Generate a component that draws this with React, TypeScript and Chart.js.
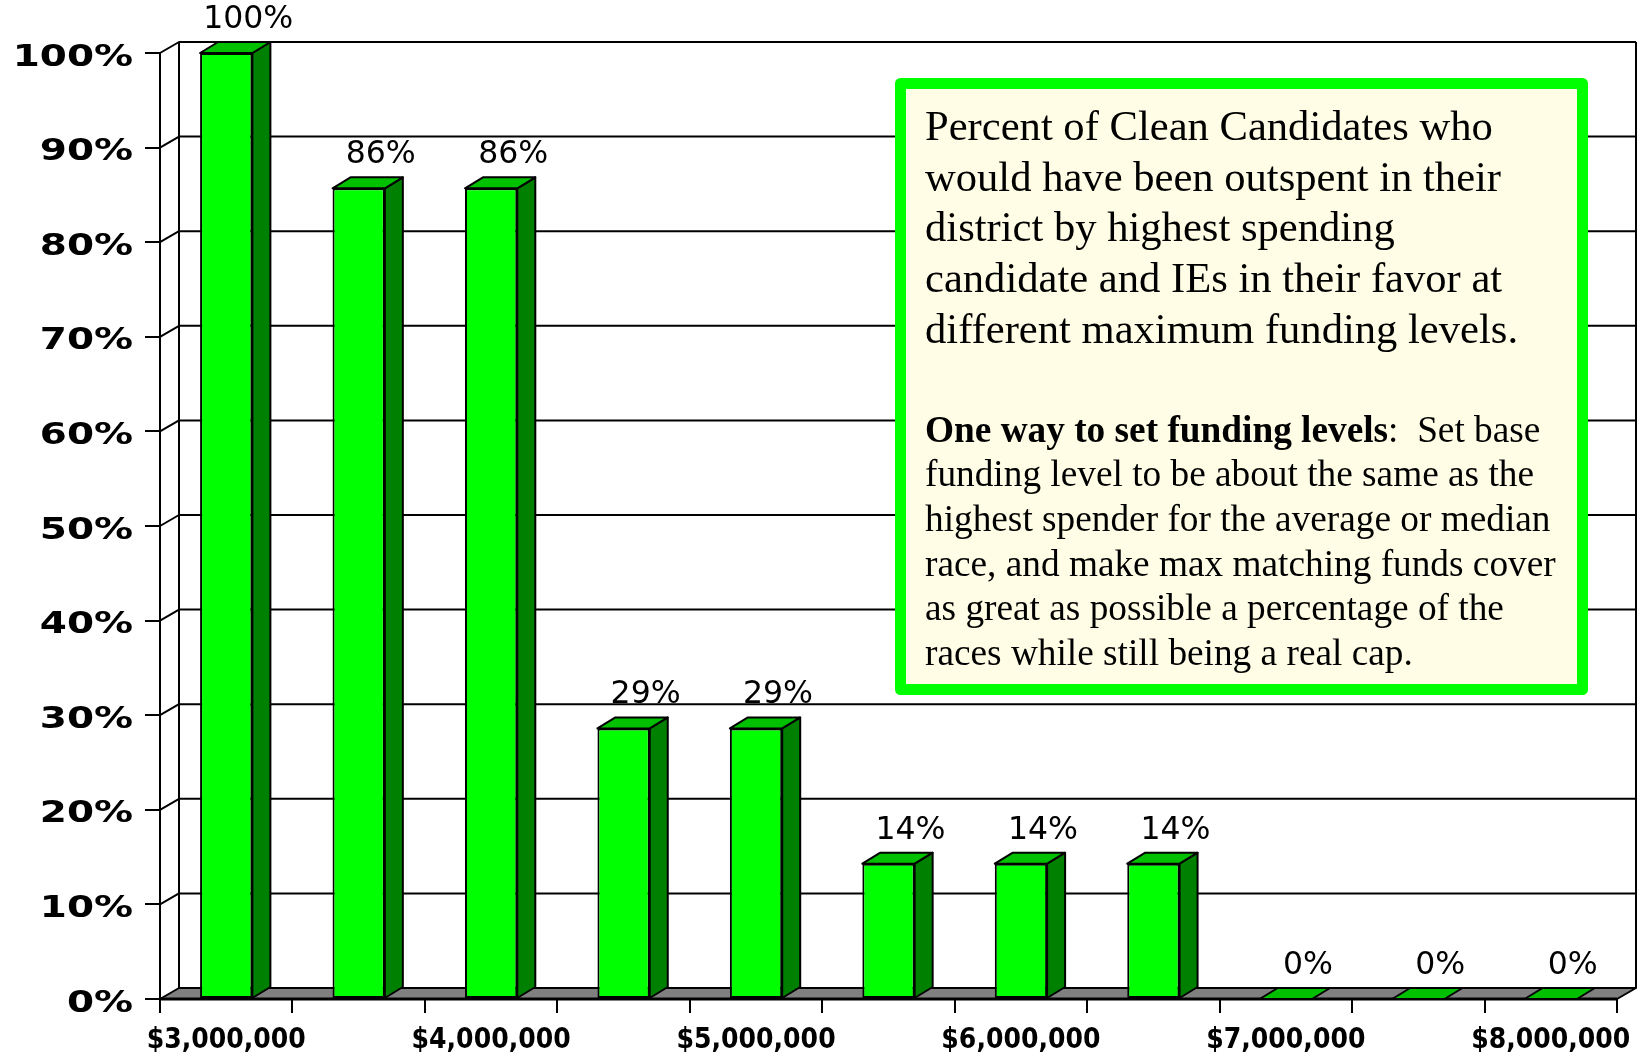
import React, { useEffect, useRef } from 'react';
import { Chart, registerables } from 'chart.js';

Chart.register(...registerables);

// ---------------- data ----------------
const categories = [
  '$3,000,000', '$3,500,000', '$4,000,000', '$4,500,000', '$5,000,000', '$5,500,000',
  '$6,000,000', '$6,500,000', '$7,000,000', '$7,500,000', '$8,000,000',
];
const percentOutspent = [100, 85.7, 85.7, 28.6, 28.6, 14.3, 14.3, 14.3, 0, 0, 0];
const yMin = 0;
const yMax = 100;
const yStep = 10;

const noteTitleLines = [
  'Percent of Clean Candidates who',
  'would have been outspent in their',
  'district by highest spending',
  'candidate and IEs in their favor at',
  'different maximum funding levels.',
];
const noteBoldLead = 'One way to set funding levels';
const noteFirstRest = ':  Set base';
const noteBodyLines = [
  'funding level to be about the same as the',
  'highest spender for the average or median',
  'race, and make max matching funds cover',
  'as great as possible a percentage of the',
  'races while still being a real cap.',
];

// ---------------- layout / style ----------------
const W = 1637;
const H = 1054;
const WALL_DX = 19;
const WALL_DY = -11;
const BAR_DX = 18;
const BAR_DY = -11;

const threeDPlugin = {
  id: 'threeD',
  beforeDatasetsDraw(chart: any) {
    const { ctx, chartArea, scales } = chart;
    const { left, right, top, bottom } = chartArea;
    const y = scales.y;
    ctx.save();
    ctx.strokeStyle = '#000';
    ctx.lineWidth = 2;
    ctx.lineJoin = 'round';
    // back wall gridlines with side-wall diagonals
    y.ticks.forEach((t: any) => {
      if (t.value === yMin) return;
      const py = y.getPixelForValue(t.value);
      ctx.beginPath();
      ctx.moveTo(left, py);
      ctx.lineTo(left + WALL_DX, py + WALL_DY);
      ctx.lineTo(right + WALL_DX, py + WALL_DY);
      ctx.stroke();
    });
    // verticals
    ctx.beginPath();
    ctx.moveTo(left, top);
    ctx.lineTo(left, bottom);
    ctx.moveTo(left + WALL_DX, top + WALL_DY);
    ctx.lineTo(left + WALL_DX, bottom + WALL_DY);
    ctx.moveTo(right + WALL_DX, top + WALL_DY);
    ctx.lineTo(right + WALL_DX, bottom + WALL_DY);
    ctx.stroke();
    // floor
    ctx.beginPath();
    ctx.moveTo(left, bottom);
    ctx.lineTo(right, bottom);
    ctx.lineTo(right + WALL_DX, bottom + WALL_DY);
    ctx.lineTo(left + WALL_DX, bottom + WALL_DY);
    ctx.closePath();
    ctx.fillStyle = '#808080';
    ctx.fill();
    ctx.stroke();
    ctx.beginPath();
    ctx.lineWidth = 3;
    ctx.moveTo(left, bottom);
    ctx.lineTo(right, bottom);
    ctx.stroke();
    ctx.restore();
  },
  afterDatasetsDraw(chart: any) {
    const { ctx } = chart;
    const meta = chart.getDatasetMeta(0);
    const values = chart.data.datasets[0].data as number[];
    ctx.save();
    ctx.strokeStyle = '#000';
    ctx.lineWidth = 2;
    ctx.lineJoin = 'round';
    meta.data.forEach((el: any, i: number) => {
      const p = el.getProps(['x', 'y', 'base', 'width'], true);
      const l = p.x - p.width / 2;
      const r = p.x + p.width / 2;
      const t = Math.min(p.y, p.base);
      const b = p.base;
      if (b - t > 0.5) {
        ctx.beginPath();
        ctx.moveTo(r, t);
        ctx.lineTo(r + BAR_DX, t + BAR_DY);
        ctx.lineTo(r + BAR_DX, b + BAR_DY);
        ctx.lineTo(r, b);
        ctx.closePath();
        ctx.fillStyle = '#008000';
        ctx.fill();
        ctx.stroke();
      }
      ctx.beginPath();
      ctx.moveTo(l, t);
      ctx.lineTo(l + BAR_DX, t + BAR_DY);
      ctx.lineTo(r + BAR_DX, t + BAR_DY);
      ctx.lineTo(r, t);
      ctx.closePath();
      ctx.fillStyle = '#00C000';
      ctx.fill();
      ctx.stroke();
      // value label
      ctx.fillStyle = '#000';
      ctx.font = '31.5px "DejaVu Sans"';
      ctx.textAlign = 'center';
      ctx.textBaseline = 'alphabetic';
      ctx.fillText(`${Math.round(values[i])}%`, p.x + 22, t - 25);
    });
    ctx.restore();
  },
  afterDraw(chart: any) {
    const { ctx, scales } = chart;
    const y = scales.y;
    const x = scales.x;
    ctx.save();
    ctx.fillStyle = '#000';
    ctx.textBaseline = 'alphabetic';
    // y tick labels (wide bold)
    ctx.font = 'bold 29.5px "DejaVu Sans"';
    ctx.textAlign = 'right';
    y.ticks.forEach((t: any) => {
      const py = y.getPixelForValue(t.value);
      ctx.save();
      ctx.translate(133, py + 12.5);
      ctx.scale(1.32, 1);
      ctx.fillText(`${t.value}%`, 0, 0);
      ctx.restore();
    });
    // x tick labels (every other category)
    ctx.font = 'bold 27.5px "DejaVu Sans"';
    ctx.textAlign = 'center';
    categories.forEach((lab, i) => {
      if (i % 2 !== 0) return;
      const px = x.getPixelForValue(i);
      ctx.save();
      ctx.translate(px, 1048);
      ctx.scale(0.915, 1);
      ctx.fillText(lab, 0, 0);
      ctx.restore();
    });
    // annotation box
    const bx = 900.5, by = 83.5, bw = 682, bh = 606;
    ctx.fillStyle = '#FFFDE5';
    ctx.fillRect(bx, by, bw, bh);
    ctx.strokeStyle = '#00FF00';
    ctx.lineWidth = 11;
    ctx.lineJoin = 'round';
    ctx.strokeRect(bx, by, bw, bh);
    ctx.fillStyle = '#000';
    ctx.textAlign = 'left';
    ctx.font = '42.6px "Liberation Serif"';
    noteTitleLines.forEach((line, i) => {
      ctx.fillText(line, 925, 140 + i * 50.7);
    });
    const b0 = 441.5;
    const lh = 44.7;
    ctx.font = 'bold 37.3px "Liberation Serif"';
    ctx.fillText(noteBoldLead, 925, b0);
    const lw = ctx.measureText(noteBoldLead).width;
    ctx.font = '37.3px "Liberation Serif"';
    ctx.fillText(noteFirstRest, 925 + lw, b0);
    noteBodyLines.forEach((line, i) => {
      ctx.fillText(line, 925, b0 + (i + 1) * lh);
    });
    ctx.restore();
  },
};

export default function App() {
  const canvasRef = useRef<HTMLCanvasElement | null>(null);

  useEffect(() => {
    let chart: Chart | null = null;
    let cancelled = false;
    const fontsReady = Promise.all([
      document.fonts.load('31px "DejaVu Sans"'),
      document.fonts.load('bold 29px "DejaVu Sans"'),
      document.fonts.load('42px "Liberation Serif"'),
      document.fonts.load('bold 37px "Liberation Serif"'),
    ]).catch(() => null);
    fontsReady.then(() => {
      if (cancelled || !canvasRef.current) return;
      chart = new Chart(canvasRef.current, {
        type: 'bar',
        data: {
          labels: categories,
          datasets: [
            {
              data: percentOutspent,
              backgroundColor: '#00FF00',
              borderColor: '#000000',
              borderWidth: 2,
              borderSkipped: false,
              barPercentage: 0.395,
              categoryPercentage: 1,
            },
          ],
        },
        options: {
          responsive: false,
          animation: false,
          devicePixelRatio: 1,
          layout: { padding: { left: 0, right: 20, top: 53, bottom: 0 } },
          plugins: { legend: { display: false }, tooltip: { enabled: false } },
          scales: {
            x: {
              offset: true,
              grid: {
                offset: true,
                drawOnChartArea: false,
                drawTicks: true,
                tickLength: 14,
                color: '#000',
                lineWidth: 2,
              },
              border: { display: false },
              ticks: { display: false, autoSkip: false },
              afterFit: (s: any) => {
                s.height = 55;
              },
            },
            y: {
              min: yMin,
              max: yMax,
              ticks: { stepSize: yStep, display: false },
              grid: {
                drawOnChartArea: false,
                drawTicks: true,
                tickLength: 15,
                color: '#000',
                lineWidth: 2,
              },
              border: { display: false },
              afterFit: (s: any) => {
                s.width = 160;
              },
            },
          },
        } as any,
        plugins: [threeDPlugin],
      });
    });
    return () => {
      cancelled = true;
      if (chart) chart.destroy();
    };
  }, []);

  return (
    <div style={{ position: 'fixed', left: 0, top: 0, width: W, height: H, background: '#fff' }}>
      <canvas ref={canvasRef} width={W} height={H} style={{ display: 'block' }} />
    </div>
  );
}
